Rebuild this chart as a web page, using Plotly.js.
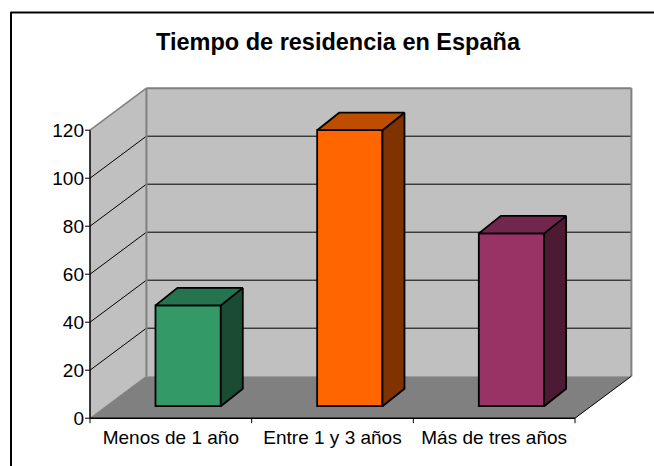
<!DOCTYPE html>
<html><head><meta charset="utf-8">
<script src="https://cdn.plot.ly/plotly-3.0.0.min.js"></script>
<style>html,body{margin:0;padding:0;background:#fff}#c{width:654px;height:466px}</style></head>
<body><div id="c"></div>
<script>
const categories = ["Menos de 1 año", "Entre 1 y 3 años", "Más de tres años"];
const values = [42, 115, 72];
const yTicks = [0, 20, 40, 60, 80, 100, 120];
const frontColors = ["#339966", "#FF6600", "#993366"];
const topColors = ["#267350", "#BF4D00", "#73264D"];
const sideColors = ["#1A4C33", "#803300", "#4C1A33"];
const titleText = "Tiempo de residencia en España";

// scale: one category = 161.67px, one value unit = 2.4px; plot frame origin at (90,418)
const pxX = 161.67, pxY = 2.4, ox = 90, oy = 418.2;
const L = 85, R = 637, T = 84, B = 424;
const depthX = 56.4 / pxX, depthY = 42 / pxY;        // whole floor depth
const barOffX = 0.107, barBase = 5, barW = 0.404;     // bar front plane inside the floor
const barDX = 22 / pxX, barDY = 17.5 / pxY;           // bar depth
const nCat = categories.length, yMax = 120;
const tickX = (L - ox) / pxX, tickY = -5 / pxY;

const wall = "#C0C0C0", floor = "#808080", edge = "#808080";
const poly = (pts, fill) => ({type:"path", layer:"below", xref:"x", yref:"y",
  path:"M" + pts.map(p => p.join(",")).join("L") + "Z", fillcolor:fill, line:{width:0}});
const seg = (x0,y0,x1,y1,color,width) => ({type:"line", layer:"below", xref:"x", yref:"y", x0,y0,x1,y1, line:{color,width}});

const shapes = [
  poly([[0,0],[depthX,depthY],[depthX,yMax+depthY],[0,yMax]], wall),
  poly([[depthX,depthY],[nCat+depthX,depthY],[nCat+depthX,yMax+depthY],[depthX,yMax+depthY]], wall),
  poly([[0,0],[nCat,0],[nCat+depthX,depthY],[depthX,depthY]], floor)
];
yTicks.filter(v => v > 0 && v < yMax).forEach(v => {
  shapes.push(seg(0,v,depthX,v+depthY,"#000",1));
  shapes.push(seg(depthX,v+depthY,nCat+depthX,v+depthY,"#000",1));
});
shapes.push(seg(0,yMax,depthX,yMax+depthY,edge,1.5));
shapes.push(seg(depthX,yMax+depthY,nCat+depthX,yMax+depthY,edge,2));
shapes.push(seg(depthX,depthY,depthX,yMax+depthY,edge,2));
shapes.push(seg(nCat+depthX,depthY,nCat+depthX,yMax+depthY,edge,2));
shapes.push(seg(nCat,0,nCat+depthX,depthY,"#000",1));
shapes.push(seg(0,0,depthX,depthY,edge,1));
shapes.push(seg(0,0,0,yMax,"#000",1.5));
shapes.push(seg(0,0,nCat,0,"#000",1.5));
yTicks.forEach(v => shapes.push(seg(tickX,v,0,v,"#000",1)));
for (let i = 0; i <= nCat; i++) shapes.push(seg(i,tickY,i,0,"#000",1));
// chart-area frame: top and left edges
const fx = px => (px - L) / (R - L), fy = py => (B - py) / (B - T);
[[10.5,12.5,654,12.5],[11,12,11,466]].forEach(a => shapes.push({type:"line", layer:"above", xref:"paper", yref:"paper",
  x0:fx(a[0]), y0:fy(a[1]), x1:fx(a[2]), y1:fy(a[3]), line:{color:"#000",width:2}}));

const centers = values.map((_, i) => i + 0.5 + barOffX);
const faceLine = {color:"#000", width:1.8};
const traces = [{
  type:"bar", x:centers, y:values, base:barBase, width:barW,
  marker:{color:frontColors, line:faceLine}, hoverinfo:"skip", showlegend:false
}];
values.forEach((v, i) => {
  const x0 = centers[i] - barW/2, x1 = centers[i] + barW/2, y0 = barBase, y1 = barBase + v;
  traces.push({type:"scatter", mode:"lines", fill:"toself", fillcolor:sideColors[i], line:faceLine, hoverinfo:"skip", showlegend:false,
    x:[x1, x1+barDX, x1+barDX, x1, x1], y:[y0, y0+barDY, y1+barDY, y1, y0]});
  traces.push({type:"scatter", mode:"lines", fill:"toself", fillcolor:topColors[i], line:faceLine, hoverinfo:"skip", showlegend:false,
    x:[x0, x1, x1+barDX, x0+barDX, x0], y:[y1, y1, y1+barDY, y1+barDY, y1]});
});

const font = {family:'"Liberation Sans", Arial, sans-serif', size:19, color:"#000"};
const layout = {
  width:654, height:466, margin:{l:L, r:654-R, t:T, b:466-B}, paper_bgcolor:"#fff", plot_bgcolor:"#fff",
  showlegend:false, bargap:0, font,
  title:{text:"<b>"+titleText+"</b>", font:{family:font.family, size:23.5, color:"#000"}, x:338/654, xanchor:"center", y:1-42/466, yanchor:"middle"},
  xaxis:{range:[(L-ox)/pxX,(R-ox)/pxX], tickmode:"array", tickvals:categories.map((_,i)=>i+0.5), ticktext:categories, ticks:"", ticklen:0,
    showgrid:false, zeroline:false, showline:false, tickfont:font, tickangle:0},
  yaxis:{range:[(oy-B)/pxY,(oy-T)/pxY], tickmode:"array", tickvals:yTicks, ticks:"", showgrid:false, zeroline:false, showline:false, tickfont:font},
  shapes
};
Plotly.newPlot("c", traces, layout, {staticPlot:true, displayModeBar:false});
</script></body></html>
